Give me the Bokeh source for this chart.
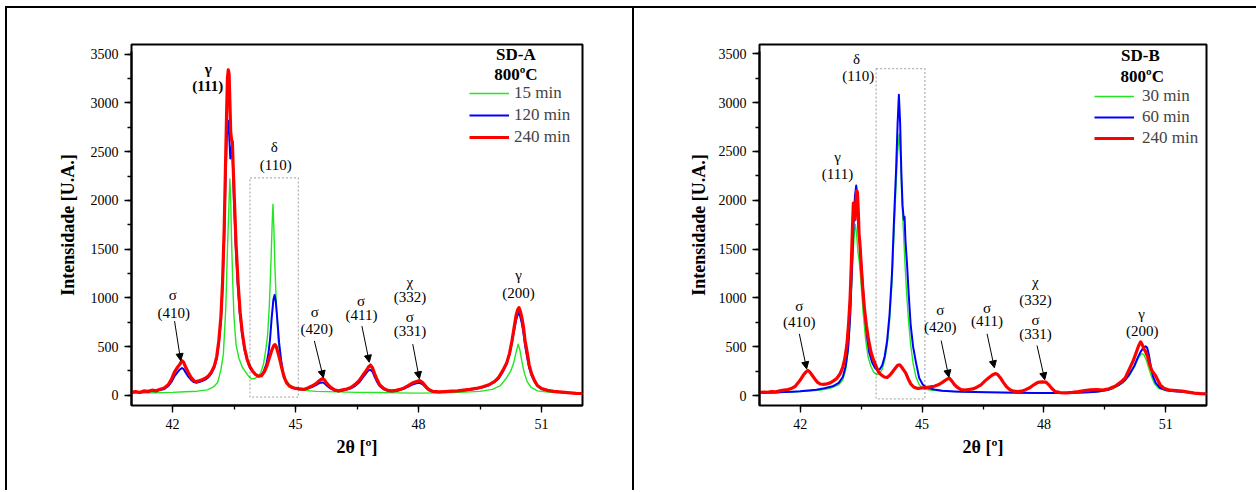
from bokeh.plotting import figure
from bokeh.layouts import row
from bokeh.models import (Label, Arrow, NormalHead, BoxAnnotation, Legend, LegendItem,
                          SingleIntervalTicker, Range1d)
from bokeh.embed import file_html
from bokeh.resources import INLINE

FONT = "Liberation Serif"

# ---------------- SD-A (800 C) ----------------
a15_x = [41.0, 41.3, 41.6, 42.0, 42.3, 42.6, 42.85, 43.0, 43.1, 43.18, 43.24, 43.30, 43.34, 43.38, 43.40,
         43.42, 43.44, 43.47, 43.50, 43.55, 43.62, 43.70, 43.78, 43.85, 43.92, 44.00, 44.08, 44.15,
         44.22, 44.28, 44.32, 44.36, 44.40, 44.43, 44.45, 44.47, 44.50, 44.54, 44.58, 44.63, 44.68,
         44.75, 44.85, 45.0, 45.2, 45.5, 46.0, 46.5, 47.0, 47.5, 48.0, 48.5, 49.0, 49.5, 49.8, 50.0,
         50.15, 50.25, 50.32, 50.38, 50.43, 50.47, 50.52, 50.58, 50.65, 50.75, 50.9, 51.2, 51.6, 52.0]
a15_y = [20, 24, 26, 30, 36, 42, 55, 85, 130, 260, 420, 900, 1500, 2000, 2220,
         2000, 1600, 1150, 800, 520, 380, 290, 240, 200, 170, 170, 190, 230,
         320, 480, 620, 900, 1350, 1750, 1960, 1750, 1300, 850, 560, 380, 260,
         170, 110, 70, 50, 40, 35, 30, 28, 25, 22, 25, 30, 40, 60, 100,
         180, 250, 330, 440, 525, 470, 350, 230, 140, 80, 45, 30, 22, 18]

a120_x = [41.00, 41.10, 41.20, 41.30, 41.40, 41.50, 41.60, 41.70, 41.80, 41.90, 41.98, 42.05, 42.12,
          42.18, 42.23, 42.27, 42.32, 42.38, 42.45, 42.52, 42.58, 42.65, 42.72, 42.80, 42.88, 42.95,
          43.02, 43.08, 43.13, 43.18, 43.22, 43.26, 43.29, 43.32, 43.35, 43.37, 43.39, 43.41, 43.43,
          43.45, 43.47, 43.50, 43.54, 43.59, 43.64, 43.70, 43.76, 43.82, 43.88, 43.95, 44.02, 44.10,
          44.17, 44.23, 44.29, 44.34, 44.38, 44.42, 44.46, 44.49, 44.52, 44.56, 44.60, 44.65, 44.70,
          44.76, 44.83, 44.90, 45.00, 45.10, 45.20, 45.30, 45.40, 45.50, 45.58, 45.65, 45.70, 45.76,
          45.85, 45.95, 46.05, 46.15, 46.25, 46.35, 46.45, 46.55, 46.65, 46.72, 46.78, 46.83, 46.88,
          46.93, 46.98, 47.05, 47.15, 47.25, 47.35, 47.45, 47.55, 47.65, 47.75, 47.85, 47.95, 48.03,
          48.10, 48.18, 48.25, 48.35, 48.50, 48.65, 48.80, 48.95, 49.10, 49.25, 49.40, 49.55, 49.70,
          49.85, 49.95, 50.05, 50.15, 50.22, 50.28, 50.33, 50.38, 50.42, 50.45, 50.48, 50.52, 50.56,
          50.60, 50.65, 50.70, 50.76, 50.83, 50.90, 51.00, 51.15, 51.30, 51.50, 51.70, 51.85, 52.00]
a120_y = [28, 35, 26, 40, 36, 45, 42, 55, 65, 95, 140, 195, 235,
          265, 280, 270, 235, 195, 160, 135, 128, 135, 145, 160, 185, 225,
          285, 380, 530, 760, 1100, 1600, 2150, 2600, 2820, 2800, 2600, 2430, 2480,
          2560, 2400, 2000, 1550, 1150, 850, 620, 460, 360, 290, 245, 215, 195,
          205, 250, 320, 430, 580, 800, 980, 1030, 960, 760, 540, 360, 230,
          150, 105, 85, 70, 62, 58, 68, 85, 105, 125, 132, 125, 100,
          70, 50, 42, 48, 58, 72, 95, 130, 185, 225, 255, 262, 240,
          190, 145, 95, 62, 45, 40, 44, 55, 68, 90, 110, 122, 128,
          112, 78, 52, 36, 32, 35, 40, 43, 50, 57, 66, 80, 100,
          135, 170, 235, 320, 420, 540, 660, 770, 830, 845, 810, 740, 640,
          510, 390, 280, 200, 140, 95, 65, 48, 38, 30, 24, 20, 17]

a240_x = [41.00, 41.10, 41.20, 41.30, 41.40, 41.50, 41.60, 41.70, 41.80, 41.90, 41.98, 42.05, 42.12,
          42.18, 42.23, 42.27, 42.32, 42.38, 42.45, 42.52, 42.58, 42.65, 42.72, 42.80, 42.88, 42.95,
          43.02, 43.08, 43.13, 43.18, 43.22, 43.26, 43.29, 43.32, 43.34, 43.36, 43.38, 43.40, 43.42,
          43.44, 43.46, 43.48, 43.51, 43.55, 43.60, 43.65, 43.70, 43.76, 43.82, 43.88, 43.95, 44.02,
          44.10, 44.17, 44.24, 44.30, 44.36, 44.42, 44.47, 44.50, 44.53, 44.57, 44.62, 44.67, 44.72,
          44.78, 44.85, 44.92, 45.00, 45.10, 45.20, 45.30, 45.40, 45.50, 45.58, 45.65, 45.70, 45.76,
          45.85, 45.95, 46.05, 46.15, 46.25, 46.35, 46.45, 46.55, 46.65, 46.72, 46.78, 46.83, 46.88,
          46.93, 46.98, 47.05, 47.15, 47.25, 47.35, 47.45, 47.55, 47.65, 47.75, 47.85, 47.95, 48.03,
          48.10, 48.18, 48.25, 48.35, 48.50, 48.65, 48.80, 48.95, 49.10, 49.25, 49.40, 49.55, 49.70,
          49.85, 49.95, 50.05, 50.15, 50.22, 50.28, 50.33, 50.38, 50.42, 50.45, 50.48, 50.52, 50.56,
          50.60, 50.65, 50.70, 50.76, 50.83, 50.90, 51.00, 51.15, 51.30, 51.50, 51.70, 51.85, 52.00]
a240_y = [30, 38, 28, 45, 40, 52, 46, 62, 75, 110, 170, 240, 285,
          320, 355, 340, 290, 240, 185, 150, 140, 150, 160, 175, 200, 240,
          300, 400, 560, 800, 1150, 1700, 2300, 2900, 3250, 3340, 3300, 3000, 2700,
          2620, 2600, 2350, 2000, 1550, 1150, 850, 650, 480, 370, 300, 250, 215,
          195, 200, 240, 300, 380, 460, 510, 520, 500, 440, 360, 270, 190,
          130, 95, 80, 70, 65, 60, 75, 95, 120, 150, 170, 160, 125,
          85, 55, 45, 55, 65, 80, 110, 150, 210, 250, 290, 310, 280,
          220, 170, 110, 70, 50, 45, 50, 60, 75, 100, 125, 140, 150,
          130, 90, 60, 40, 35, 38, 42, 45, 52, 60, 70, 85, 105,
          140, 180, 250, 330, 430, 560, 690, 820, 880, 900, 870, 800, 700,
          560, 440, 310, 220, 150, 100, 70, 50, 40, 32, 25, 20, 18]

# ---------------- SD-B (800 C) ----------------
b30_x = [41.00, 41.30, 41.60, 41.90, 42.20, 42.50, 42.75, 42.95, 43.05, 43.12, 43.18, 43.23, 43.27,
         43.31, 43.34, 43.36, 43.39, 43.42, 43.46, 43.50, 43.55, 43.61, 43.67, 43.74, 43.81, 43.88,
         43.95, 44.02, 44.08, 44.14, 44.20, 44.26, 44.31, 44.36, 44.40, 44.44, 44.47, 44.50, 44.54,
         44.58, 44.62, 44.67, 44.72, 44.78, 44.85, 44.93, 45.02, 45.20, 45.50, 45.80, 46.20, 46.60,
         47.00, 47.50, 48.00, 48.50, 49.00, 49.40, 49.70, 49.95, 50.10, 50.22, 50.32, 50.40, 50.46,
         50.52, 50.58, 50.65, 50.72, 50.82, 51.00, 51.30, 51.60, 52.00]
b30_y = [25, 28, 32, 38, 45, 55, 75, 110, 160, 260, 450, 750, 1150,
         1500, 1700, 1750, 1650, 1480, 1350, 1150, 850, 580, 400, 300, 240, 215,
         225, 270, 360, 510, 760, 1150, 1650, 2150, 2500, 2680, 2450, 2050, 1700,
         1350, 1050, 750, 520, 330, 190, 110, 75, 55, 45, 40, 35, 32,
         30, 28, 27, 28, 32, 42, 70, 130, 200, 290, 380, 430, 420,
         360, 280, 190, 120, 75, 50, 40, 28, 18]

b60_x = [41.00, 41.20, 41.40, 41.60, 41.80, 42.00, 42.20, 42.40, 42.60, 42.80, 42.95, 43.05, 43.12,
         43.18, 43.23, 43.27, 43.31, 43.35, 43.38, 43.40, 43.42, 43.45, 43.49, 43.53, 43.58, 43.64,
         43.70, 43.77, 43.84, 43.90, 43.96, 44.02, 44.08, 44.14, 44.20, 44.26, 44.31, 44.36, 44.40,
         44.43, 44.46, 44.49, 44.52, 44.55, 44.57, 44.59, 44.63, 44.67, 44.72, 44.78, 44.85, 44.93,
         45.02, 45.12, 45.30, 45.50, 45.80, 46.00, 46.30, 46.60, 47.00, 47.40, 47.80, 48.20, 48.60,
         49.00, 49.30, 49.60, 49.85, 50.00, 50.12, 50.22, 50.30, 50.38, 50.45, 50.50, 50.54, 50.58,
         50.63, 50.68, 50.75, 50.85, 51.00, 51.20, 51.40, 51.60, 51.80, 52.00]
b60_y = [28, 30, 32, 35, 40, 45, 52, 60, 75, 95, 130, 190, 300,
         480, 800, 1250, 1700, 2050, 2150, 2050, 1800, 1650, 1450, 1200, 900, 620,
         440, 340, 285, 260, 270, 310, 400, 560, 830, 1250, 1800, 2300, 2800,
         3080, 2800, 2300, 1950, 1800, 1830, 1600, 1350, 1050, 720, 500, 340, 180,
         110, 80, 62, 50, 42, 38, 35, 33, 30, 28, 27, 25, 26,
         30, 38, 60, 110, 160, 230, 300, 380, 450, 490, 505, 490, 420,
         300, 200, 130, 80, 55, 45, 38, 30, 22, 18]

b240_x = [41.00, 41.10, 41.20, 41.30, 41.40, 41.50, 41.60, 41.70, 41.80, 41.88, 41.95, 42.02, 42.08,
          42.14, 42.19, 42.24, 42.30, 42.36, 42.43, 42.50, 42.58, 42.66, 42.74, 42.82, 42.90, 42.98,
          43.05, 43.10, 43.15, 43.19, 43.23, 43.26, 43.29, 43.31, 43.33, 43.35, 43.37, 43.39, 43.41,
          43.43, 43.45, 43.47, 43.50, 43.54, 43.58, 43.63, 43.68, 43.74, 43.80, 43.87, 43.93, 44.00,
          44.07, 44.14, 44.20, 44.27, 44.34, 44.40, 44.45, 44.50, 44.55, 44.60, 44.66, 44.72, 44.80,
          44.90, 45.00, 45.10, 45.20, 45.30, 45.40, 45.50, 45.60, 45.67, 45.73, 45.80, 45.88, 45.96,
          46.05, 46.15, 46.25, 46.35, 46.45, 46.55, 46.65, 46.73, 46.80, 46.86, 46.93, 47.00, 47.08,
          47.16, 47.25, 47.35, 47.45, 47.55, 47.65, 47.75, 47.85, 47.95, 48.05, 48.12, 48.20, 48.28,
          48.40, 48.55, 48.70, 48.85, 49.00, 49.15, 49.30, 49.45, 49.60, 49.75, 49.90, 50.00, 50.10,
          50.20, 50.27, 50.33, 50.38, 50.42, 50.46, 50.50, 50.55, 50.60, 50.65, 50.70, 50.75, 50.80,
          50.86, 50.95, 51.10, 51.25, 51.40, 51.55, 51.70, 51.85, 52.00]
b240_y = [30, 35, 32, 40, 38, 48, 55, 62, 75, 95, 130, 170, 210,
          240, 258, 240, 205, 170, 135, 118, 115, 120, 130, 150, 175, 220,
          290, 380, 520, 720, 1000, 1350, 1750, 1970, 1960, 1800, 1950, 2100, 2080,
          1900, 1650, 1560, 1350, 1100, 900, 720, 580, 450, 370, 300, 240, 210,
          190, 185, 205, 240, 280, 310, 315, 290, 260, 230, 170, 120, 85,
          72, 78, 82, 88, 95, 110, 135, 165, 178, 150, 110, 80, 60,
          55, 62, 68, 85, 110, 150, 185, 210, 225, 215, 180, 135, 90,
          60, 45, 40, 45, 60, 80, 110, 135, 140, 138, 110, 70, 40,
          30, 28, 32, 40, 50, 58, 62, 55, 70, 95, 140, 180, 270,
          360, 440, 510, 550, 520, 480, 450, 400, 320, 260, 230, 200, 160,
          110, 75, 55, 50, 45, 35, 25, 20, 18]

x_ticks_interval = 3
y_ticks_interval = 500
GREEN, BLUE, RED = "#22e622", "#0000ff", "#ff0000"


def make_panel(width, borders, yr, ybounds, series, shadow, margin, ylab_standoff):
    left, right, top, bottom = borders
    p = figure(width=width, height=484, x_range=Range1d(41.0, 52.0), y_range=Range1d(*yr),
               output_backend="svg", toolbar_location=None,
               min_border_left=left, min_border_right=right,
               min_border_top=top, min_border_bottom=bottom,
               margin=margin, styles={"box-shadow": shadow})
    p.grid.visible = False
    p.outline_line_color = "black"
    p.outline_line_width = 2
    p.background_fill_color = "white"
    p.border_fill_color = "white"
    p.xaxis.ticker = SingleIntervalTicker(interval=x_ticks_interval, num_minor_ticks=2)
    p.yaxis.ticker = SingleIntervalTicker(interval=y_ticks_interval, num_minor_ticks=2)
    for ax in (p.xaxis, p.yaxis):
        ax.axis_line_width = 2
        ax.major_tick_in = 0
        ax.major_tick_out = 7
        ax.minor_tick_in = 0
        ax.minor_tick_out = 4
        ax.major_tick_line_width = 1.3
        ax.minor_tick_line_width = 1.3
        ax.major_label_text_font = FONT
        ax.major_label_text_font_size = "14px"
        ax.major_label_text_color = "black"
        ax.major_label_standoff = 6
        ax.axis_label_text_font = FONT
        ax.axis_label_text_font_size = "18px"
        ax.axis_label_text_font_style = "bold"
        ax.axis_label_text_color = "black"
    p.yaxis.axis_label = "Intensidade [U.A.]"
    p.yaxis.axis_label_standoff = ylab_standoff
    p.yaxis.bounds = ybounds
    p.xaxis.axis_label = "2θ [º]"
    p.xaxis.axis_label_standoff = 5
    p.xaxis.bounds = (42.0, 52.0)

    items = []
    widths = [1.4, 2.0, 3.2]
    colors = [GREEN, BLUE, RED]
    for (name, xs, ys), c, w in zip(series, colors, widths):
        r = p.line(xs, ys, line_color=c, line_width=w, line_join="round")
        items.append(LegendItem(label=name, renderers=[r]))
    return p, items


def text(p, x, y, t, size="15px", bold=False, align="center"):
    p.add_layout(Label(x=x, y=y, text=t, text_font=FONT, text_font_size=size,
                       text_font_style="bold" if bold else "normal",
                       text_align=align, text_baseline="middle", text_color="black"))


def arrow(p, x0, y0, x1, y1):
    p.add_layout(Arrow(end=NormalHead(size=7, fill_color="black", line_color="black", line_width=1),
                       x_start=x0, y_start=y0, x_end=x1, y_end=y1,
                       line_color="black", line_width=1))


# ---------- left panel ----------
pA, itemsA = make_panel(625, (124, 50, 34, 85), (-105, 3600), (-105, 3530),
                        [("15 min", a15_x, a15_y), ("120 min", a120_x, a120_y),
                         ("240 min", a240_x, a240_y)],
                        "-2px -2px 0 0 #000, 2px -2px 0 0 #000", (8, 0, 0, 7), 10)
legA = Legend(items=itemsA, location=(338, 258), padding=0, margin=0, spacing=2,
              glyph_width=40, glyph_height=20, label_height=20, label_standoff=5,
              border_line_color=None, background_fill_alpha=0,
              label_text_font=FONT, label_text_font_size="17px")
pA.add_layout(legA)
text(pA, 50.375, 3500, "SD-A", size="17px", bold=True)
text(pA, 50.375, 3290, "800ºC", size="17px", bold=True)
pA.add_layout(BoxAnnotation(left=43.89, right=45.07, bottom=-20, top=2232, fill_alpha=0,
                            line_color="black", line_dash="2 2", line_width=1.3))
text(pA, 42.875, 3345, "γ", bold=True)
text(pA, 42.86, 3172, "(111)", bold=True)
text(pA, 44.48, 2543, "δ")
text(pA, 44.52, 2361, "(110)")
text(pA, 42.01, 1032, "σ")
text(pA, 42.03, 849, "(410)")
arrow(pA, 42.05, 761, 42.20, 355)
text(pA, 45.47, 852, "σ")
text(pA, 45.52, 677, "(420)")
arrow(pA, 45.46, 558, 45.68, 180)
text(pA, 46.60, 964, "σ")
text(pA, 46.61, 819, "(411)")
arrow(pA, 46.62, 710, 46.80, 339)
text(pA, 47.79, 1167, "χ")
text(pA, 47.79, 1008, "(332)")
text(pA, 47.79, 806, "σ")
text(pA, 47.79, 659, "(331)")
arrow(pA, 47.86, 525, 48.02, 169)
text(pA, 50.44, 1235, "γ")
text(pA, 50.44, 1049, "(200)")

# ---------- right panel ----------
pB, itemsB = make_panel(622, (125, 50, 36, 87), (-102, 3595), (-102, 3523),
                        [("30 min", b30_x, b30_y), ("60 min", b60_x, b60_y),
                         ("240 min", b240_x, b240_y)],
                        "-2px -2px 0 0 #000, 0 -2px 0 0 #000", (8, 0, 0, 2), 7)
legB = Legend(items=itemsB, location=(335, 257), padding=0, margin=0, spacing=1,
              glyph_width=40, glyph_height=20, label_height=20, label_standoff=8,
              border_line_color=None, background_fill_alpha=0,
              label_text_font=FONT, label_text_font_size="17px")
pB.add_layout(legB)
text(pB, 50.375, 3483, "SD-B", size="17px", bold=True)
text(pB, 50.42, 3268, "800ºC", size="17px", bold=True)
pB.add_layout(BoxAnnotation(left=43.87, right=45.07, bottom=-34, top=3347, fill_alpha=0,
                            line_color="black", line_dash="2 2", line_width=1.3))
text(pB, 43.39, 3449, "δ")
text(pB, 43.43, 3268, "(110)")
text(pB, 42.92, 2441, "γ")
text(pB, 42.92, 2271, "(111)")
text(pB, 41.98, 922, "σ")
text(pB, 41.98, 751, "(410)")
arrow(pB, 41.98, 632, 42.16, 273)
text(pB, 45.45, 878, "σ")
text(pB, 45.45, 700, "(420)")
arrow(pB, 45.47, 563, 45.66, 188)
text(pB, 46.60, 898, "σ")
text(pB, 46.60, 761, "(411)")
arrow(pB, 46.60, 632, 46.78, 284)
text(pB, 47.79, 1161, "χ")
text(pB, 47.79, 980, "(332)")
text(pB, 47.79, 775, "σ")
text(pB, 47.79, 632, "(331)")
arrow(pB, 47.83, 512, 48.02, 161)
text(pB, 50.40, 837, "γ")
text(pB, 50.42, 659, "(200)")

layout = row(pA, pB)
open("out.html", "w").write(file_html(layout, INLINE))
